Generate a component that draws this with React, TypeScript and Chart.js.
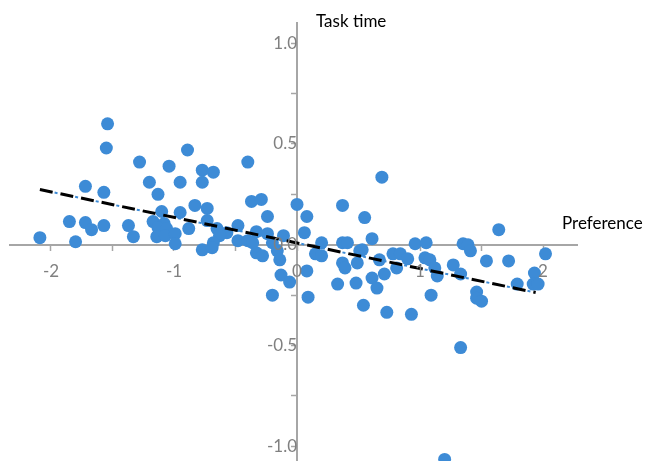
import React, { useEffect, useRef } from 'react';
import { Chart, registerables } from 'chart.js';

Chart.register(...registerables);

// Scatter data (Preference, Task time)
const preference = [
  -2.09, -1.85, -1.80, -1.72, -1.72, -1.67, -1.57, -1.57, -1.55, -1.54,
  -1.37, -1.33, -1.28, -1.20, -1.13, -1.10, -1.17, -1.08, -1.13, -1.06,
  -1.14, -1.07, -0.99, -0.99, -1.04, -0.95, -0.95, -0.89, -0.83, -0.73,
  -0.77, -0.68, -0.77, -0.88, -0.73, -0.65, -0.57, -0.48, -0.63, -0.68,
  -0.77, -0.69, -0.48, -0.40, -0.36, -0.40, -0.37, -0.29, 0.00, 0.37,
  0.69, -0.24, 0.08, 0.55, 0.06, -0.33, -0.24, -0.11, -0.20, 0.20,
  0.37, 0.41, 0.61, -0.33, -0.28, -0.16, 0.15, 0.20, 0.51, -0.14,
  0.37, 0.39, 0.49, 0.08, -0.13, -0.06, 0.33, 0.48, 0.61, 0.65,
  -0.20, 0.09, 0.54, 0.73, 0.93, 0.96, 1.05, 1.35, 1.39, 1.41,
  1.64, 2.02, 0.78, 0.84, 0.90, 0.67, 1.04, 1.08, 1.12, 1.14,
  0.81, 1.27, 1.33, 1.54, 1.72, 1.93, 1.79, 1.92, 1.96, 0.71,
  1.09, 1.46, 1.46, 1.50, 1.33, 1.20, 0.53,
];
const taskTime = [
  0.035, 0.115, 0.015, 0.29, 0.11, 0.075, 0.26, 0.095, 0.48, 0.60,
  0.095, 0.04, 0.41, 0.31, 0.25, 0.165, 0.115, 0.105, 0.085, 0.08,
  0.04, 0.045, 0.055, 0.005, 0.39, 0.31, 0.16, 0.47, 0.195, 0.18,
  0.37, 0.36, 0.31, 0.08, 0.12, 0.08, 0.06, 0.095, 0.045, 0.01,
  -0.025, -0.015, 0.02, 0.02, 0.01, 0.41, 0.215, 0.225, 0.20, 0.195,
  0.335, 0.14, 0.14, 0.135, 0.06, 0.065, 0.055, 0.045, 0.01, 0.01,
  0.01, 0.01, 0.03, -0.04, -0.055, -0.03, -0.045, -0.055, -0.03, -0.075,
  -0.09, -0.115, -0.09, -0.13, -0.15, -0.185, -0.195, -0.19, -0.165, -0.215,
  -0.25, -0.26, -0.30, -0.335, -0.345, 0.005, 0.01, 0.005, 0.0, -0.03,
  0.075, -0.045, -0.045, -0.045, -0.07, -0.075, -0.065, -0.075, -0.115, -0.155,
  -0.115, -0.10, -0.145, -0.08, -0.08, -0.14, -0.195, -0.195, -0.195, -0.145,
  -0.25, -0.235, -0.265, -0.28, -0.51, -1.065, -0.025,
];

// Linear trendline end points
const trendX = [-2.09, 1.94];
const trendY = [0.274, -0.237];
const trendDotX = [-2.09, 2.02];
const trendDotY = [0.274, -0.247];

// Axis ticks
const xTickValues = [-2, -1.5, -1, -0.5, 0, 0.5, 1, 1.5, 2];
const yTickValues = [-1, -0.75, -0.5, -0.25, 0, 0.25, 0.5, 0.75, 1];

const xTitle = 'Preference';
const yTitle = 'Task time';

const FONT = 'Lato';

const axisTitles = {
  id: 'axisTitles',
  afterDraw(chart: any) {
    const { ctx } = chart;
    const x = chart.scales.x;
    const y = chart.scales.y;
    ctx.save();
    ctx.font = `17px ${FONT}`;
    ctx.fillStyle = '#000000';
    ctx.textBaseline = 'middle';
    ctx.textAlign = 'left';
    ctx.fillText(yTitle, x.getPixelForValue(0) + 19, y.top - 1);
    ctx.fillText(xTitle, x.right - 15, y.getPixelForValue(0) - 21);
    ctx.restore();
  },
};

export default function App() {
  const ref = useRef<HTMLCanvasElement | null>(null);

  useEffect(() => {
    if (!ref.current) return;
    const points = preference.map((p, i) => ({ x: p, y: taskTime[i] }));
    const trend = trendX.map((v, i) => ({ x: v, y: trendY[i] }));
    const trendDot = trendDotX.map((v, i) => ({ x: v, y: trendDotY[i] }));

    const zeroPad = (s: any) => {
      s.paddingTop = 0;
      s.paddingBottom = 0;
      s.paddingLeft = 0;
      s.paddingRight = 0;
    };

    const chart = new Chart(ref.current, {
      type: 'scatter',
      data: {
        datasets: [
          {
            label: 'trend',
            data: trend,
            showLine: true,
            borderColor: '#000000',
            borderWidth: 3,
            borderDash: [13, 8],
            pointRadius: 0,
            order: 0,
            clip: false as any,
          },
          {
            label: 'trend-dot',
            data: trendDot,
            showLine: true,
            borderColor: '#3d8bd6',
            borderWidth: 2,
            borderDash: [3, 18],
            borderDashOffset: -15,
            pointRadius: 0,
            order: 1,
            clip: false as any,
          },
          {
            label: 'data',
            data: points,
            backgroundColor: '#3d8bd6',
            borderWidth: 0,
            pointRadius: 6.5,
            order: 2,
            clip: false as any,
          },
        ],
      },
      options: {
        animation: false,
        responsive: true,
        maintainAspectRatio: false,
        events: [],
        layout: { padding: { left: 10, right: 88, top: 23, bottom: 0 } },
        plugins: {
          legend: { display: false },
          tooltip: { enabled: false },
          title: { display: false },
        },
        scales: {
          x: {
            type: 'linear',
            min: -2.333,
            max: 2.276,
            position: { y: 0 } as any,
            afterBuildTicks: (s: any) => {
              s.ticks = xTickValues.map((v) => ({ value: v }));
            },
            afterFit: zeroPad,
            border: { display: true, color: '#a6a6a6', width: 2 },
            grid: {
              display: true,
              drawOnChartArea: false,
              drawTicks: true,
              tickLength: 5,
              tickWidth: 1.5,
              tickColor: '#a6a6a6',
            },
            ticks: {
              z: 1,
              padding: 12,
              color: '#808080',
              font: { family: FONT, size: 17 },
              maxRotation: 0,
              autoSkip: false,
              callback: (v: any) => (Number.isInteger(v) ? String(v) : ''),
            },
          },
          y: {
            type: 'linear',
            min: -1.1,
            max: 1.1,
            position: { x: 0 } as any,
            afterBuildTicks: (s: any) => {
              s.ticks = yTickValues.map((v) => ({ value: v }));
            },
            afterFit: zeroPad,
            border: { display: true, color: '#a6a6a6', width: 2 },
            grid: {
              display: true,
              drawOnChartArea: false,
              drawTicks: true,
              tickLength: 5,
              tickWidth: 1.5,
              tickColor: '#a6a6a6',
            },
            ticks: {
              z: 1,
              padding: 12,
              color: '#808080',
              font: { family: FONT, size: 17 },
              autoSkip: false,
              callback: (v: any) =>
                Math.abs((v * 2) - Math.round(v * 2)) < 1e-9 ? Number(v).toFixed(1) : '',
            },
          },
        },
      },
      plugins: [axisTitles],
    });
    return () => chart.destroy();
  }, []);

  return (
    <div style={{ position: 'fixed', left: 0, top: 0, width: 665, height: 473, background: '#ffffff' }}>
      <canvas ref={ref} />
    </div>
  );
}
